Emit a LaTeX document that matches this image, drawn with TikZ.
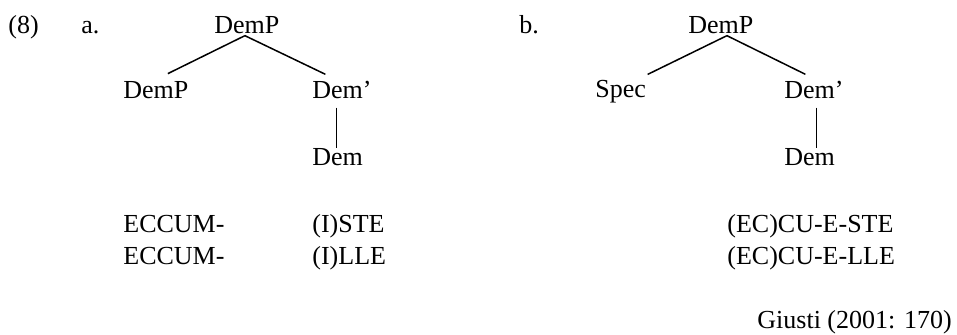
\documentclass[tikz,border=0pt]{standalone}
\usepackage{fontspec}
\setmainfont{Liberation Serif}
\begin{document}
\begin{tikzpicture}[x=0.5pt,y=-0.5pt,
  lbl/.style={inner sep=0pt,anchor=base west,font=\fontsize{13pt}{15pt}\selectfont},
  branch/.style={line width=0.75pt}]
\useasboundingbox (0,0) rectangle (957,334);
% labels
\node[lbl] (num) at (8,33) {(8)};
\node[lbl] (la) at (81,33) {a.};
\node[lbl] (lb) at (519,33) {b.};
% tree a
\node[lbl] (at) at (214,33) {DemP};
\node[lbl] (al) at (123,98) {DemP};
\node[lbl] (ar) at (312,98) {Dem’};
\node[lbl] (ad) at (312,165) {Dem};
% tree b
\node[lbl] (bt) at (688,33) {DemP};
\node[lbl] (bl) at (595,97) {Spec};
\node[lbl] (br) at (784,98) {Dem’};
\node[lbl] (bd) at (784,165) {Dem};
% forms
\node[lbl] (e1) at (123,232) {ECCUM-};
\node[lbl] (e2) at (123,264) {ECCUM-};
\node[lbl] (i1) at (312,232) {(I)STE};
\node[lbl] (i2) at (312,264) {(I)LLE};
\node[lbl] (c1) at (727,232) {(EC)CU-E-STE};
\node[lbl] (c2) at (727,264) {(EC)CU-E-LLE};
\node[lbl] (src) at (757,328) {Giusti (2001: 170)};
% branches a
\draw[branch] ([xshift=-1pt,yshift=-1pt]at.south) -- ([xshift=6pt,yshift=3.5pt]al.north);
\draw[branch] ([xshift=-1pt,yshift=-1pt]at.south) -- ([xshift=-8.3pt,yshift=3pt]ar.north);
\draw[branch] ([xshift=-2.8pt,yshift=-4.5pt]ar.south) -- ([xshift=-2.8pt,yshift=0pt]ar.south |- ad.north);
% branches b
\draw[branch] ([xshift=3pt,yshift=-1pt]bt.south) -- ([xshift=13.5pt,yshift=2.5pt]bl.north);
\draw[branch] ([xshift=3pt,yshift=-1pt]bt.south) -- ([xshift=-4.3pt,yshift=3pt]br.north);
\draw[branch] ([xshift=1.2pt,yshift=-4.5pt]br.south) -- ([xshift=1.2pt]br.south |- bd.north);
\end{tikzpicture}
\end{document}
